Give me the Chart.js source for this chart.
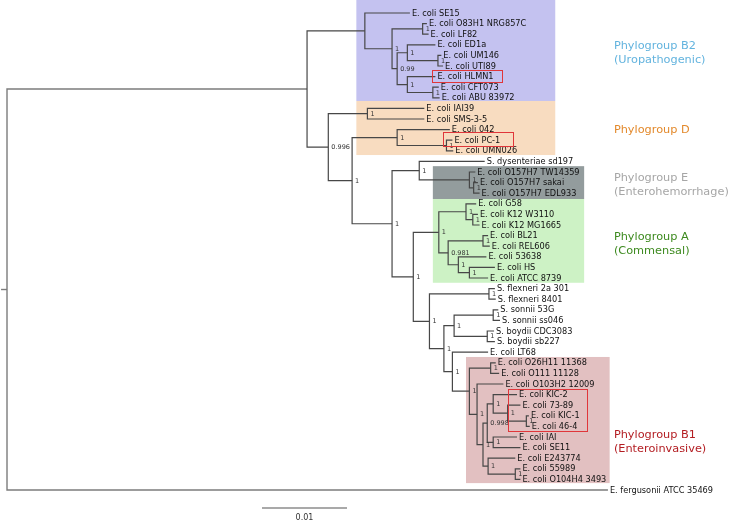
<!DOCTYPE html>
<html>
<head>
<meta charset="utf-8">
<script src="https://cdn.jsdelivr.net/npm/chart.js@4.4.0/dist/chart.umd.min.js"></script>
<style>
  html, body { margin: 0; padding: 0; background: #fff; }
  #tree { display: block; }
</style>
</head>
<body>
<canvas id="tree" width="733" height="521"></canvas>
<script>
// tips, top to bottom (y = row index)
var leafNames = [
  "E. coli SE15", "E. coli O83H1 NRG857C", "E. coli LF82", "E. coli ED1a",
  "E. coli UM146", "E. coli UTI89", "E. coli HLMN1", "E. coli CFT073",
  "E. coli ABU 83972", "E. coli IAI39", "E. coli SMS-3-5", "E. coli 042",
  "E. coli PC-1", "E. coli UMN026", "S. dysenteriae sd197", "E. coli O157H7 TW14359",
  "E. coli O157H7 sakai", "E. coli O157H7 EDL933", "E. coli G58", "E. coli K12 W3110",
  "E. coli K12 MG1665", "E. coli BL21", "E. coli REL606", "E. coli 53638",
  "E. coli HS", "E. coli ATCC 8739", "S. flexneri 2a 301", "S. flexneri 8401",
  "S. sonnii 53G", "S. sonnii ss046", "S. boydii CDC3083", "S. boydii sb227",
  "E. coli LT68", "E. coli O26H11 11368", "E. coli O111 11128", "E. coli O103H2 12009",
  "E. coli KIC-2", "E. coli 73-89", "E. coli KIC-1", "E. coli 46-4",
  "E. coli IAI", "E. coli SE11", "E. coli E243774", "E. coli 55989",
  "E. coli O104H4 3493", "E. fergusonii ATCC 35469"
];
// distance from root (substitutions/site)
var leafDepth = [
  0.0474, 0.0494, 0.0496, 0.0504, 0.0511, 0.0513, 0.0504, 0.0508,
  0.0509, 0.0491, 0.0491, 0.0521, 0.0524, 0.0525, 0.0562, 0.0551,
  0.0554, 0.0556, 0.0552, 0.0554, 0.0556, 0.0566, 0.0568, 0.0564,
  0.0574, 0.0566, 0.0574, 0.0575, 0.0578, 0.0580, 0.0573, 0.0574,
  0.0566, 0.0575, 0.0579, 0.0584, 0.0600, 0.0604, 0.0614, 0.0615,
  0.0600, 0.0604, 0.0598, 0.0604, 0.0604, 0.0707
];
// internal nodes: children ids (0-45 = tips, 46+ = node k at 46+k)
var nodeKids = [
  [1, 2], [4, 5], [3, 47], [7, 8], [6, 49], [48, 50], [46, 51], [0, 52],
  [9, 10], [12, 13], [11, 55], [16, 17], [15, 57], [14, 58], [19, 20], [18, 60],
  [21, 22], [24, 25], [23, 63], [62, 64], [61, 65], [26, 27], [28, 29], [30, 31],
  [68, 69], [33, 34], [38, 39], [37, 72], [36, 73], [40, 41], [74, 75], [43, 44],
  [42, 77], [76, 78], [35, 79], [71, 80], [32, 81], [70, 82], [67, 83], [66, 84],
  [59, 85], [56, 86], [54, 87], [53, 88], [89, 45]
];
var nodeDepth = [
  0.0489, 0.0507, 0.0471, 0.0501, 0.0471, 0.0459, 0.0453, 0.0421,
  0.0424, 0.0517, 0.0459, 0.0549, 0.0544, 0.0485, 0.0548, 0.0540,
  0.0560, 0.0544, 0.0531, 0.0519, 0.0508, 0.0567, 0.0572, 0.0565,
  0.0526, 0.0569, 0.0611, 0.0589, 0.0572, 0.0572, 0.0565, 0.0598,
  0.0566, 0.0560, 0.0553, 0.0544, 0.0524, 0.0514, 0.0497, 0.0478,
  0.0453, 0.0406, 0.0378, 0.0353, 0.0000
];
var nodeSupport = [
  "1", "1", "1", "1", "1", "0.99", "1", "",
  "1", "1", "1", "1", "1", "1", "1", "1",
  "1", "1", "1", "0.981", "1", "1", "1", "1",
  "1", "1", "1", "1", "1", "1", "0.998", "1",
  "1", "1", "1", "1", "1", "1", "1", "1",
  "1", "1", "0.996", "", ""
];
var scaleBar = 0.01;

// clade shading: [depth from, depth to, row from, row to]
var clades = [
  { name: "Phylogroup B2", sub: "(Uropathogenic)", fill: "#c4c2f0", text: "#62b3de", box: [0.0411, 0.0645, -1.3, 8.3], row: 3.1 },
  { name: "Phylogroup D", sub: "", fill: "#f8dcc0", text: "#e3892b", box: [0.0411, 0.0645, 8.3, 13.4], row: 11.0 },
  { name: "Phylogroup E", sub: "(Enterohemorrhage)", fill: "#939c9d", text: "#a6a6a6", box: [0.0501, 0.0679, 14.45, 17.55], row: 15.6 },
  { name: "Phylogroup A", sub: "(Commensal)", fill: "#cdf2c5", text: "#3d8a1f", box: [0.0501, 0.0679, 17.55, 25.45], row: 21.1 },
  { name: "Phylogroup B1", sub: "(Enteroinvasive)", fill: "#e2c0c1", text: "#b31d22", box: [0.0540, 0.0709, 32.45, 44.35], row: 39.8 }
];
var highlights = [
  [0.0500, 0.0582, 5.4, 6.5],
  [0.0513, 0.0595, 11.25, 12.55],
  [0.0589, 0.0682, 35.45, 39.45]
];

var nLeaf = leafNames.length;
function depthOf(id) { return id < nLeaf ? leafDepth[id] : nodeDepth[id - nLeaf]; }
var rowCache = {};
function rowOf(id) {
  if (id < nLeaf) return id;
  if (rowCache[id] === undefined) {
    var k = nodeKids[id - nLeaf];
    rowCache[id] = (rowOf(k[0]) + rowOf(k[1])) / 2;
  }
  return rowCache[id];
}

var rootId = nLeaf + nodeKids.length - 1;
var datasets = [];
nodeKids.forEach(function (k, i) {
  var d = nodeDepth[i];
  var isRoot = (nLeaf + i) === rootId;
  datasets.push({
    data: [
      { x: depthOf(k[0]), y: rowOf(k[0]) },
      { x: d, y: rowOf(k[0]) },
      { x: d, y: rowOf(k[1]) },
      { x: depthOf(k[1]), y: rowOf(k[1]) }
    ],
    showLine: true, borderColor: isRoot ? "#7c7c7c" : "#474747",
    borderWidth: isRoot ? 1.4 : 1.2, pointRadius: 0
  });
});
datasets.push({ // root stub
  data: [{ x: -0.0007, y: rowOf(rootId) }, { x: 0, y: rowOf(rootId) }],
  showLine: true, borderColor: "#7c7c7c", borderWidth: 1.4, pointRadius: 0
});
datasets.push({ // scale bar
  data: [{ x: 0.03, y: 46.7 }, { x: 0.03 + scaleBar, y: 46.7 }],
  showLine: true, borderColor: "#555", borderWidth: 1.2, pointRadius: 0
});

var treeDecor = {
  id: "treeDecor",
  beforeDatasetsDraw: function (chart) {
    var ctx = chart.ctx, xs = chart.scales.x, ys = chart.scales.y;
    ctx.save();
    clades.forEach(function (c) {
      var x0 = xs.getPixelForValue(c.box[0]), x1 = xs.getPixelForValue(c.box[1]);
      var y0 = ys.getPixelForValue(c.box[2]), y1 = ys.getPixelForValue(c.box[3]);
      ctx.fillStyle = c.fill;
      ctx.fillRect(x0, y0, x1 - x0, y1 - y0);
    });
    ctx.restore();
  },
  afterDatasetsDraw: function (chart) {
    var ctx = chart.ctx, xs = chart.scales.x, ys = chart.scales.y;
    ctx.save();
    ctx.textBaseline = "middle";
    ctx.textAlign = "left";
    // tip names
    ctx.font = "8.2px 'DejaVu Sans'";
    ctx.fillStyle = "#111";
    leafNames.forEach(function (n, i) {
      ctx.fillText(n, xs.getPixelForValue(leafDepth[i]) + 2, ys.getPixelForValue(i) + 0.5);
    });
    // support values
    ctx.font = "6.5px 'DejaVu Sans'";
    ctx.fillStyle = "#333";
    nodeSupport.forEach(function (s, i) {
      if (!s) return;
      ctx.fillText(s, xs.getPixelForValue(nodeDepth[i]) + 3, ys.getPixelForValue(rowOf(nLeaf + i)) + 0.5);
    });
    // red boxes
    ctx.strokeStyle = "#e0363a";
    ctx.lineWidth = 1;
    highlights.forEach(function (h) {
      var x0 = Math.round(xs.getPixelForValue(h[0])) + 0.5, x1 = Math.round(xs.getPixelForValue(h[1])) + 0.5;
      var y0 = Math.round(ys.getPixelForValue(h[2])) + 0.5, y1 = Math.round(ys.getPixelForValue(h[3])) + 0.5;
      ctx.strokeRect(x0, y0, x1 - x0, y1 - y0);
    });
    // group titles
    ctx.font = "11.3px 'DejaVu Sans'";
    clades.forEach(function (c) {
      var x = xs.getPixelForValue(0.0714), y = ys.getPixelForValue(c.row);
      ctx.fillStyle = c.text;
      ctx.fillText(c.name, x, y);
      if (c.sub) ctx.fillText(c.sub, x, y + 14);
    });
    // scale label
    ctx.font = "8px 'DejaVu Sans'";
    ctx.fillStyle = "#333";
    ctx.textAlign = "center";
    ctx.fillText(String(scaleBar), xs.getPixelForValue(0.03 + scaleBar / 2), ys.getPixelForValue(47.65));
    ctx.restore();
  }
};

new Chart(document.getElementById("tree").getContext("2d"), {
  type: "scatter",
  data: { datasets: datasets },
  options: {
    responsive: false,
    animation: false,
    devicePixelRatio: 1,
    layout: { padding: 0 },
    plugins: { legend: { display: false }, tooltip: { enabled: false } },
    scales: {
      x: { type: "linear", min: -0.000824, max: 0.085412, display: false },
      y: { type: "linear", min: -1.2264, max: 47.9245, reverse: true, display: false }
    }
  },
  plugins: [treeDecor]
});
</script>
</body>
</html>
